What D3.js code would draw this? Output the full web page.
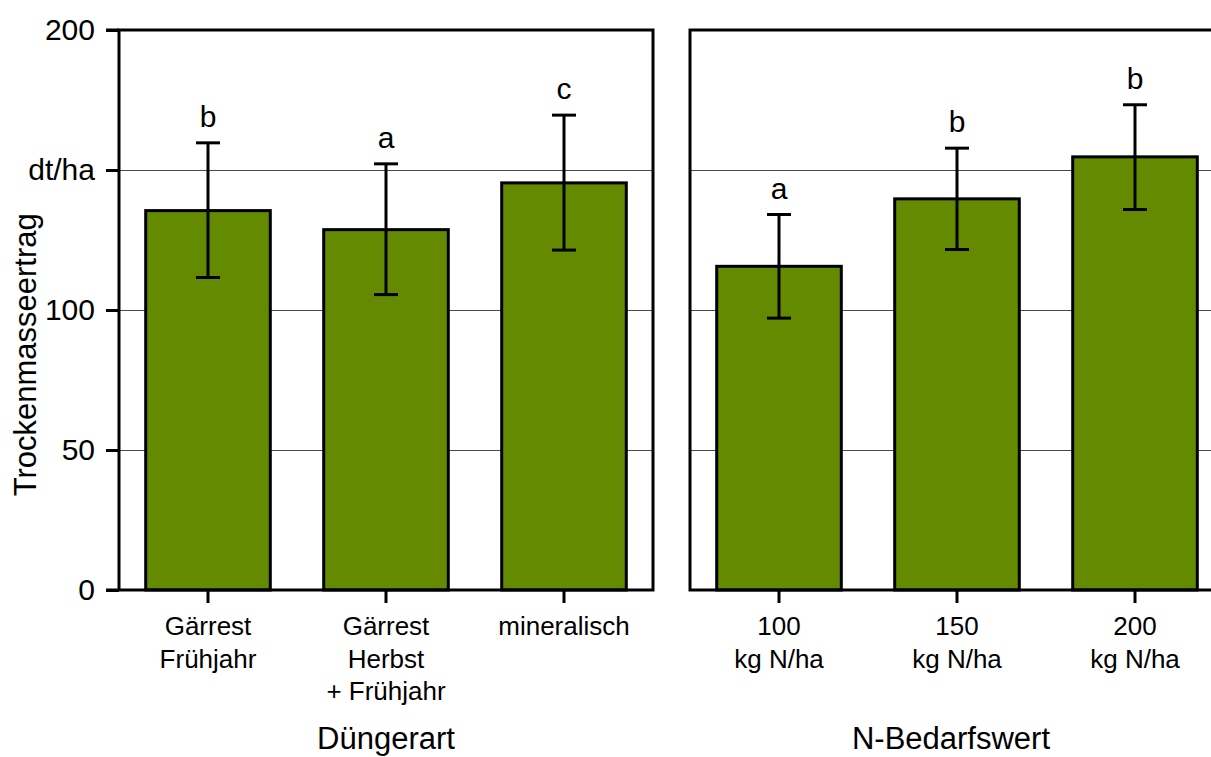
<!DOCTYPE html>
<html>
<head>
<meta charset="utf-8">
<script src="https://cdn.jsdelivr.net/npm/d3@7"></script>
<style>
  body { margin: 0; background: #fff; }
  svg { display: block; font-family: "Liberation Sans", Arial, sans-serif; }
</style>
</head>
<body>
<svg id="chart"></svg>
<script>
// y axis
const yTicks = [0, 50, 100, 150, 200];
const yTickLabels = ["0", "50", "100", "dt/ha", "200"];
const yTitle = "Trockenmasseertrag";

// panel 1: Düngerart
const duengerCats = [["Gärrest", "Frühjahr"], ["Gärrest", "Herbst", "+ Frühjahr"], ["mineralisch"]];
const duengerMeans = [135.5, 128.7, 145.4];
const duengerLow = [111.6, 105.5, 121.4];
const duengerHigh = [159.7, 152.2, 169.6];
const duengerLetters = ["b", "a", "c"];

// panel 2: N-Bedarfswert
const nCats = [["100", "kg N/ha"], ["150", "kg N/ha"], ["200", "kg N/ha"]];
const nMeans = [115.6, 139.7, 154.7];
const nLow = [97.1, 121.6, 135.9];
const nHigh = [134.1, 157.8, 173.3];
const nLetters = ["a", "b", "b"];

const panels = [
    { title: "Düngerart", cats: duengerCats, means: duengerMeans, low: duengerLow, high: duengerHigh, letters: duengerLetters, left: 119, yLabels: true },
    { title: "N-Bedarfswert", cats: nCats, means: nMeans, low: nLow, high: nHigh, letters: nLetters, left: 690, yLabels: false }
];

const width = 1211, height = 757;
const marginTop = 30, plotH = 560, plotW = 534;
const green = "#638a00";
const lw = 3;

const svg = d3.select("#chart").attr("width", width).attr("height", height);

const yscale = d3.scaleLinear().domain([0, 200]).range([plotH, 0]);

panels.forEach(p => {
    const g = svg.append("g").attr("transform", `translate(${p.left}, ${marginTop})`);
    const idx = p.cats.map((d, i) => i);
    const xscale = d3.scaleBand().domain(idx).range([0, plotW]).paddingInner(0.3).paddingOuter(0.15);

    // gridlines (half-pixel offset keeps them crisp)
    g.selectAll(".grid")
        .data(yTicks.filter(d => d > 0 && d < 200))
        .enter().append("line")
        .attr("x1", 0).attr("x2", plotW)
        .attr("y1", d => yscale(d) + 0.5).attr("y2", d => yscale(d) + 0.5)
        .attr("stroke", "#4a4a4a").attr("stroke-width", 1);

    // bars
    g.selectAll(".bar")
        .data(idx)
        .enter().append("rect")
        .attr("x", i => xscale(i))
        .attr("y", i => yscale(p.means[i]))
        .attr("width", xscale.bandwidth())
        .attr("height", i => plotH - yscale(p.means[i]))
        .attr("fill", green)
        .attr("stroke", "#000").attr("stroke-width", lw);

    // error bars
    const cx = i => xscale(i) + xscale.bandwidth() / 2;
    const err = g.selectAll(".err").data(idx).enter().append("g")
        .attr("stroke", "#000").attr("stroke-width", lw);
    err.append("line")
        .attr("x1", cx).attr("x2", cx)
        .attr("y1", i => yscale(p.low[i])).attr("y2", i => yscale(p.high[i]));
    err.append("line")
        .attr("x1", i => cx(i) - 12).attr("x2", i => cx(i) + 12)
        .attr("y1", i => yscale(p.low[i])).attr("y2", i => yscale(p.low[i]));
    err.append("line")
        .attr("x1", i => cx(i) - 12).attr("x2", i => cx(i) + 12)
        .attr("y1", i => yscale(p.high[i])).attr("y2", i => yscale(p.high[i]));

    // significance letters
    g.selectAll(".letter").data(idx).enter().append("text")
        .attr("x", cx)
        .attr("y", i => yscale(p.high[i]) - 16)
        .attr("text-anchor", "middle")
        .style("font-size", "30px")
        .text(i => p.letters[i]);

    // y axis
    const yaxis = d3.axisLeft(yscale)
        .tickValues(yTicks)
        .tickSize(13)
        .tickPadding(11)
        .tickFormat((d, i) => p.yLabels ? yTickLabels[i] : "");
    const yg = g.append("g").call(yaxis);
    yg.select(".domain").remove();
    yg.selectAll(".tick line").attr("stroke-width", lw);
    if (!p.yLabels) yg.selectAll(".tick line").remove();
    yg.selectAll("text").style("font-size", "30px").attr("fill", "#000");
    yg.attr("font-family", null);

    // x axis
    const xaxis = d3.axisBottom(xscale).tickSize(13).tickFormat("");
    const xg = g.append("g").attr("transform", `translate(0, ${plotH})`).call(xaxis);
    xg.attr("font-family", null);
    xg.select(".domain").remove();
    xg.selectAll(".tick line").attr("stroke-width", lw);
    xg.selectAll(".tick").each(function (i) {
        const t = d3.select(this).append("text")
            .attr("text-anchor", "middle")
            .attr("fill", "#000")
            .style("font-size", "26px");
        p.cats[i].forEach((line, k) => {
            t.append("tspan").attr("x", 0).attr("y", 45 + k * 32.5).text(line);
        });
    });

    // frame
    g.append("rect")
        .attr("x", 0).attr("y", 0)
        .attr("width", plotW).attr("height", plotH)
        .attr("fill", "none")
        .attr("stroke", "#000").attr("stroke-width", lw);
    if (p.yLabels) {
        // left axis line runs out to the tick length at top and bottom
        g.append("line").attr("x1", -13).attr("x2", 0).attr("y1", 0).attr("y2", 0)
            .attr("stroke", "#000").attr("stroke-width", lw);
        g.append("line").attr("x1", -13).attr("x2", 0).attr("y1", plotH).attr("y2", plotH)
            .attr("stroke", "#000").attr("stroke-width", lw);
    }

    // axis title
    svg.append("text")
        .attr("x", p.left + plotW / 2 - (p.yLabels ? 0 : 6))
        .attr("y", 749)
        .attr("text-anchor", "middle")
        .style("font-size", "31px")
        .text(p.title);
});

svg.append("text")
    .attr("transform", `translate(36, ${marginTop + plotH * 0.58}) rotate(-90)`)
    .attr("text-anchor", "middle")
    .style("font-size", "31px")
    .text(yTitle);
</script>
</body>
</html>
